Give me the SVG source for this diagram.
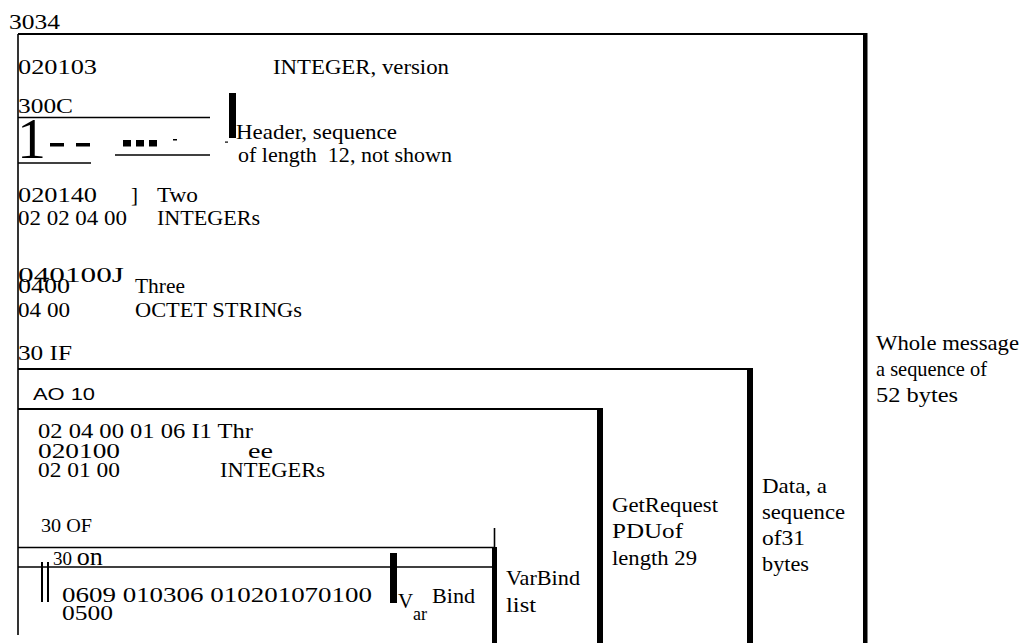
<svg xmlns="http://www.w3.org/2000/svg" width="1021" height="643" viewBox="0 0 1021 643">
<style>
.t{font-family:"Liberation Serif","Times New Roman",serif;font-size:21px;fill:#000}
.b{font-size:22px}
.s{font-family:"Liberation Sans",Arial,sans-serif;font-size:16px;fill:#000}
.ln{stroke:#000;stroke-width:1.6;fill:none}
.thick{fill:#000}
</style>
<rect width="1021" height="643" fill="#fff"/>
<g id="message">
  <line class="ln" x1="18" y1="34" x2="18" y2="635"/>
  <line class="ln" x1="18" y1="34" x2="866" y2="34" style="stroke-width:2"/>
  <rect class="thick" x="863" y="33" width="4.5" height="610"/>
  <text class="t" x="9" y="29" textLength="51" lengthAdjust="spacingAndGlyphs">3034</text>
  <text class="t b" x="18" y="74" textLength="79" lengthAdjust="spacingAndGlyphs">020103</text>
  <text class="t" x="273" y="74" textLength="176" lengthAdjust="spacingAndGlyphs">INTEGER, version</text>
  <text class="t b" x="18" y="202" textLength="79" lengthAdjust="spacingAndGlyphs">020140</text>
  <text class="t" x="131" y="202">]</text>
  <text class="t" x="157" y="202" textLength="41" lengthAdjust="spacingAndGlyphs">Two</text>
  <text class="t" x="18" y="225" textLength="109" lengthAdjust="spacingAndGlyphs">02 02 04 00</text>
  <text class="t" x="157" y="225" textLength="103" lengthAdjust="spacingAndGlyphs">INTEGERs</text>
  <text class="t b" x="18" y="282" textLength="106" lengthAdjust="spacingAndGlyphs">040100J</text>
  <text class="t" x="18" y="293" textLength="52" lengthAdjust="spacingAndGlyphs">0400</text>
  <text class="t" x="135" y="293" textLength="50" lengthAdjust="spacingAndGlyphs">Three</text>
  <text class="t" x="18" y="317" textLength="52" lengthAdjust="spacingAndGlyphs">04 00</text>
  <text class="t" x="135" y="317" textLength="167" lengthAdjust="spacingAndGlyphs">OCTET STRINGs</text>
  <text class="t" x="18" y="360" textLength="54" lengthAdjust="spacingAndGlyphs">30 IF</text>
  <text class="t" x="876" y="350" textLength="143" lengthAdjust="spacingAndGlyphs">Whole message</text>
  <text class="t" x="876" y="376" textLength="111" lengthAdjust="spacingAndGlyphs">a sequence of</text>
  <text class="t" x="876" y="402" textLength="82" lengthAdjust="spacingAndGlyphs">52 bytes</text>
</g>
<g id="header">
  <text class="t" x="18" y="113" textLength="55" lengthAdjust="spacingAndGlyphs">300C</text>
  <line class="ln" x1="18" y1="117.5" x2="210" y2="117.5"/>
  <line class="ln" x1="18" y1="163" x2="91" y2="163"/>
  <line class="ln" x1="115" y1="155" x2="210" y2="155"/>
  <text class="t" x="17" y="158" style="font-size:58px">1</text>
  <rect class="thick" x="50" y="143" width="14" height="3.5"/>
  <rect class="thick" x="76" y="143" width="14" height="3.5"/>
  <rect class="thick" x="123" y="140" width="8" height="6.5"/>
  <rect class="thick" x="136" y="140" width="8" height="6.5"/>
  <rect class="thick" x="149" y="140" width="8" height="6.5"/>
  <rect class="thick" x="173" y="139" width="4" height="1.5"/>
  <rect class="thick" x="225" y="141.5" width="3" height="1.2"/>
  <rect class="thick" x="229" y="93" width="7" height="45"/>
  <text class="t" x="236" y="139" textLength="161" lengthAdjust="spacingAndGlyphs">Header, sequence</text>
  <text class="t" x="238" y="162" textLength="214" lengthAdjust="spacingAndGlyphs" xml:space="preserve">of length  12, not shown</text>
</g>
<g id="data">
  <line class="ln" x1="18" y1="369" x2="751" y2="369" style="stroke-width:2"/>
  <rect class="thick" x="747" y="368" width="6" height="275"/>
  <text class="s" x="33" y="400" textLength="62" lengthAdjust="spacingAndGlyphs">AO 10</text>
  <text class="t" x="762" y="493" textLength="65" lengthAdjust="spacingAndGlyphs">Data, a</text>
  <text class="t" x="762" y="519" textLength="83" lengthAdjust="spacingAndGlyphs">sequence</text>
  <text class="t" x="762" y="545" textLength="43" lengthAdjust="spacingAndGlyphs">of31</text>
  <text class="t" x="762" y="571" textLength="47" lengthAdjust="spacingAndGlyphs">bytes</text>
</g>
<g id="pdu">
  <line class="ln" x1="18" y1="409" x2="601" y2="409" style="stroke-width:2"/>
  <rect class="thick" x="597" y="408" width="6" height="235"/>
  <text class="t" x="38" y="438" textLength="215" lengthAdjust="spacingAndGlyphs">02 04 00 01 06 I1 Thr</text>
  <text class="t" x="38" y="458" textLength="82" lengthAdjust="spacingAndGlyphs">020100</text>
  <text class="t" x="248" y="458" textLength="25" lengthAdjust="spacingAndGlyphs">ee</text>
  <text class="t" x="38" y="477" textLength="82" lengthAdjust="spacingAndGlyphs">02 01 00</text>
  <text class="t" x="220" y="477" textLength="105" lengthAdjust="spacingAndGlyphs">INTEGERs</text>
  <text class="t" x="41" y="532" textLength="51" lengthAdjust="spacingAndGlyphs" style="font-size:19px">30 OF</text>
  <text class="t" x="612" y="512" textLength="106" lengthAdjust="spacingAndGlyphs">GetRequest</text>
  <text class="t" x="612" y="538" textLength="71" lengthAdjust="spacingAndGlyphs">PDUof</text>
  <text class="t" x="612" y="565" textLength="85" lengthAdjust="spacingAndGlyphs">length 29</text>
</g>
<g id="varbind">
  <line class="ln" x1="18" y1="547.5" x2="495" y2="547.5"/>
  <line class="ln" x1="18" y1="567" x2="495" y2="567"/>
  <line class="ln" x1="494.5" y1="528" x2="494.5" y2="548"/>
  <rect class="thick" x="492" y="547" width="5" height="96"/>
  <text class="t" x="53" y="565" style="font-size:19px">30 <tspan style="font-size:26px">on</tspan></text>
  <rect class="thick" x="41" y="562" width="2" height="40"/>
  <rect class="thick" x="47" y="562" width="2" height="40"/>
  <text class="t" x="62" y="602" textLength="310" lengthAdjust="spacingAndGlyphs" style="font-size:22px">0609 010306 010201070100</text>
  <text class="t" x="62" y="620" textLength="51" lengthAdjust="spacingAndGlyphs" style="font-size:22px">0500</text>
  <rect class="thick" x="390" y="553" width="7" height="50"/>
  <text class="t" x="398" y="608">V</text>
  <text class="t" x="413" y="620" style="font-size:18px">ar</text>
  <text class="t" x="432" y="603" textLength="43" lengthAdjust="spacingAndGlyphs">Bind</text>
  <text class="t" x="506" y="585" textLength="74" lengthAdjust="spacingAndGlyphs">VarBind</text>
  <text class="t" x="506" y="612" textLength="30" lengthAdjust="spacingAndGlyphs">list</text>
</g>
<g id="connectors"></g>
</svg>
